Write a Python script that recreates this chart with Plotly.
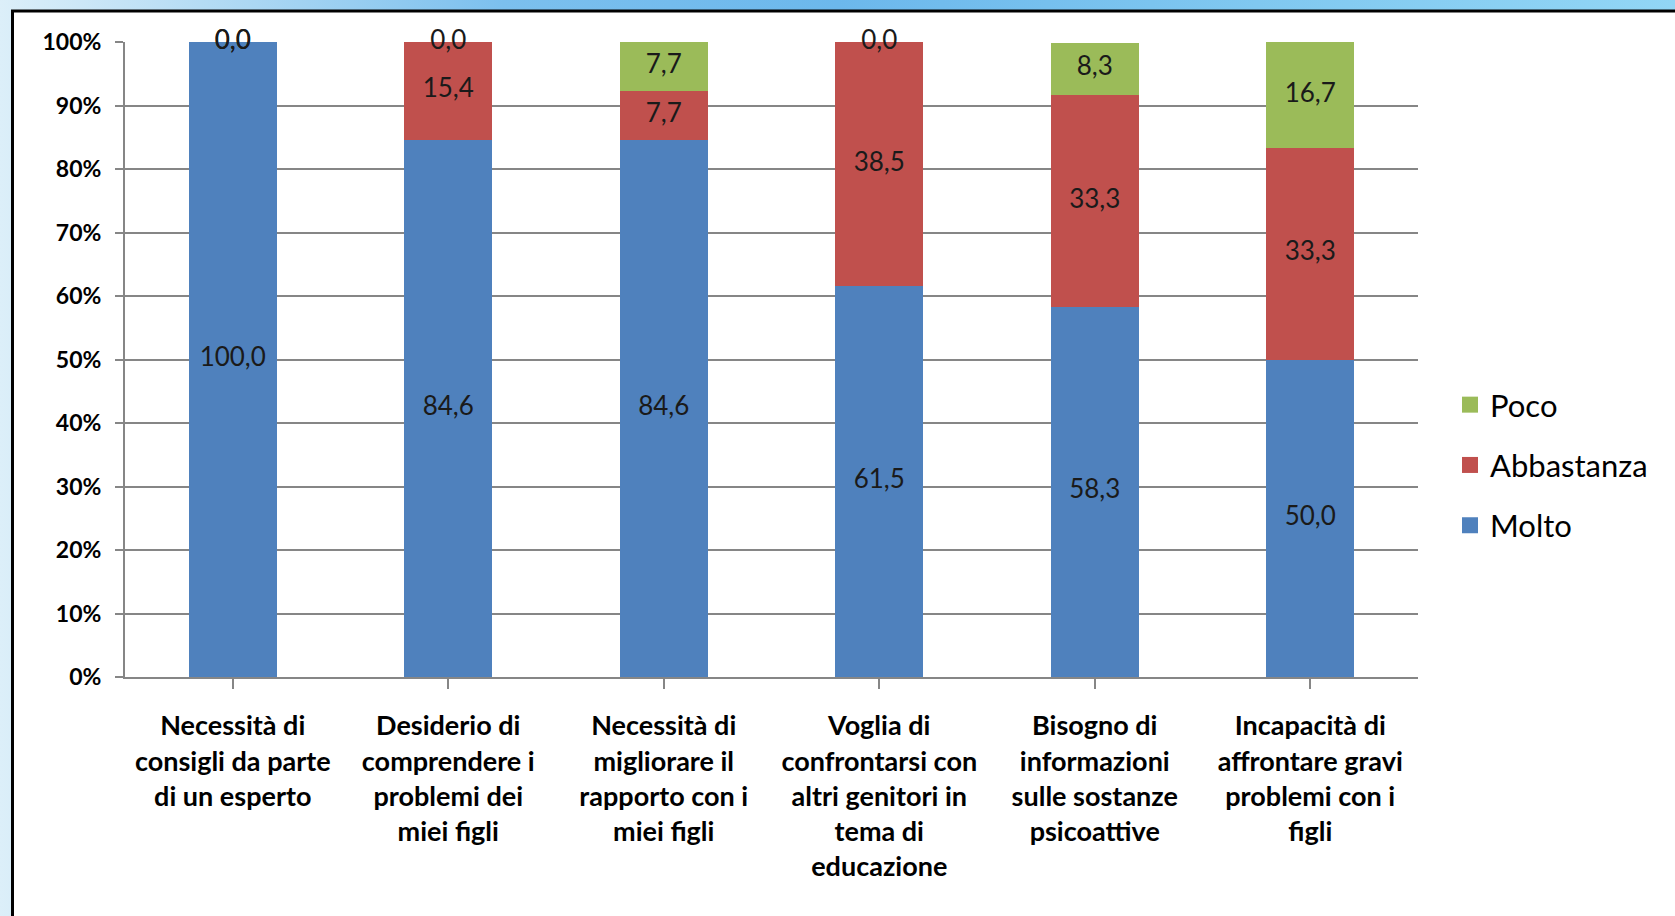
import plotly.graph_objects as go

categories = [
    "Necessità di<br>consigli da parte<br>di un esperto",
    "Desiderio di<br>comprendere i<br>problemi dei<br>miei figli",
    "Necessità di<br>migliorare il<br>rapporto con i<br>miei figli",
    "Voglia di<br>confrontarsi con<br>altri genitori in<br>tema di<br>educazione",
    "Bisogno di<br>informazioni<br>sulle sostanze<br>psicoattive",
    "Incapacità di<br>affrontare gravi<br>problemi con i<br>figli",
]
molto = [100.0, 84.6, 84.6, 61.5, 58.3, 50.0]
abbastanza = [0.0, 15.4, 7.7, 38.5, 33.3, 33.3]
poco = [0.0, 0.0, 7.7, 0.0, 8.3, 16.7]
y_ticks = [0, 10, 20, 30, 40, 50, 60, 70, 80, 90, 100]
y_tick_labels = [f"{v}%" for v in y_ticks]

series = [("Molto", molto, "#4f81bd", 3), ("Abbastanza", abbastanza, "#c0504d", 2), ("Poco", poco, "#9bbb59", 1)]

FONT = "Lato"
W, H = 1675, 916
L, R, T, B = 125, 1418, 42, 677

fig = go.Figure()
x_idx = list(range(len(categories)))
base = [0.0] * len(categories)
label_x, label_y, label_t = [], [], []
for name, vals, col, rank in series:
    fig.add_trace(go.Bar(
        x=x_idx, y=vals, name=name, marker=dict(color=col, line=dict(width=0)),
        width=0.41, showlegend=False, hoverinfo="skip",
    ))
    # legend entry with a larger square swatch
    fig.add_trace(go.Scatter(
        x=[None], y=[None], mode="markers", name=name,
        marker=dict(symbol="square", size=21, color=col),
        legendgroup=name, legendrank=rank, showlegend=True,
    ))
    for j, v in enumerate(vals):
        label_x.append(j)
        label_y.append(base[j] + v / 2)
        label_t.append(f"{v:.1f}".replace(".", ","))
        base[j] += v

fig.add_trace(go.Scatter(
    x=label_x, y=label_y, text=label_t, mode="text", showlegend=False,
    textfont=dict(family=FONT, size=26, color="#1a1a1a"), hoverinfo="skip",
    cliponaxis=False,
))

def px_x(p):
    return (p - L) / (R - L)

def px_y(p):
    return (B - p) / (B - T)

shapes = [
    dict(type="rect", xref="paper", yref="paper", x0=px_x(12.5), x1=px_x(W + 40), y0=px_y(H + 40), y1=px_y(11),
         fillcolor="white", line=dict(color="black", width=3), layer="below"),
]

fig.update_layout(
    width=W, height=H,
    margin=dict(l=L, r=W - R, t=T, b=H - B),
    paper_bgcolor="rgba(0,0,0,0)",
    plot_bgcolor="rgba(0,0,0,0)",
    barmode="stack",
    shapes=shapes,
    showlegend=True,
    legend=dict(
        x=px_x(1450), y=px_y(465), xanchor="left", yanchor="middle",
        traceorder="grouped", tracegroupgap=17,
        font=dict(family=FONT, size=31, color="black"),
        bgcolor="rgba(0,0,0,0)", itemsizing="trace",
    ),
    xaxis=dict(
        tickmode="array", tickvals=x_idx, ticktext=categories,
        range=[-0.5, len(categories) - 0.5],
        tickson="boundaries", ticks="outside", ticklen=10, tickwidth=2, tickcolor="#868686",
        showline=True, linecolor="#868686", linewidth=2,
        showgrid=False, zeroline=False, ticklabelstandoff=14,
        tickfont=dict(family=FONT, size=27, color="black", weight="bold"),
    ),
    yaxis=dict(
        range=[0, 100], tickmode="array", tickvals=y_ticks, ticktext=y_tick_labels,
        ticks="outside", ticklen=8, tickwidth=2, tickcolor="#868686",
        showline=True, linecolor="#868686", linewidth=2,
        showgrid=True, gridcolor="#868686", gridwidth=2, zeroline=False,
        ticklabelstandoff=9,
        tickfont=dict(family=FONT, size=23, color="black", weight="bold"),
    ),
    font=dict(family=FONT),
)

page_bg = ("linear-gradient(90deg, #dceff9 0%, #b5dcf4 12%, #7cc0ee 30%, "
           "#6cb8ec 50%, #80c8f0 75%, #92d6f5 100%)")
fig.write_html(
    "out.html",
    config={"displayModeBar": False},
    post_script=(
        "document.body.style.margin='0';"
        "document.body.style.overflow='hidden';"
        f"document.body.style.background='{page_bg}';"
    ),
)
